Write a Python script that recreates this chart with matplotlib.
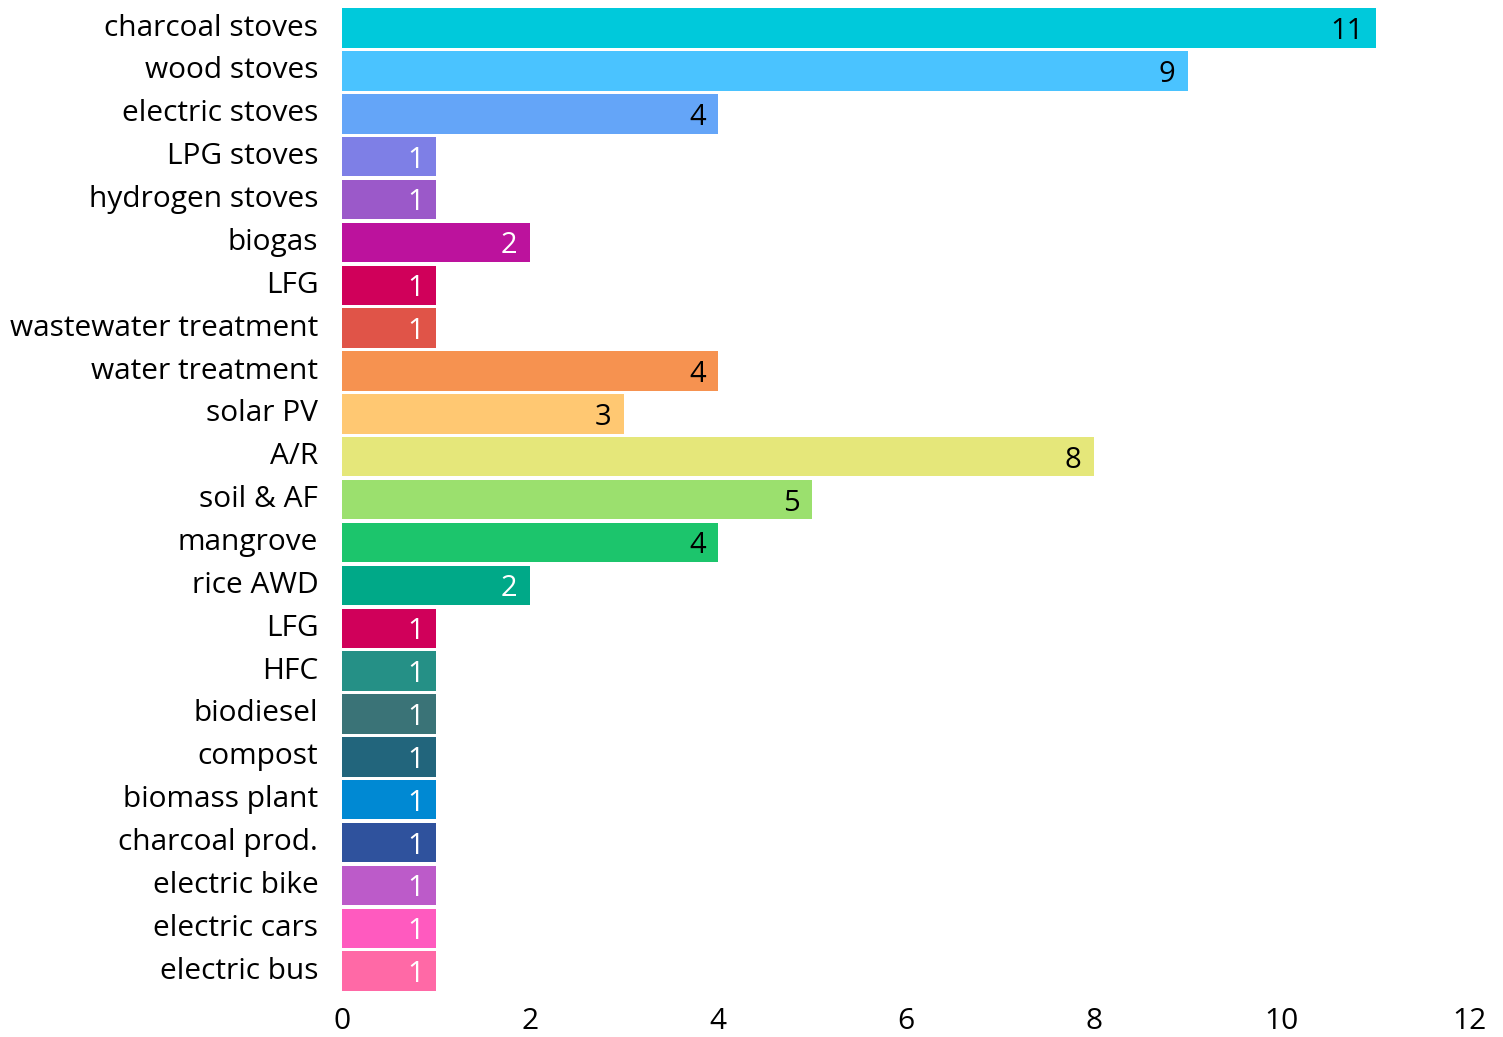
import matplotlib.pyplot as plt

# categories, top to bottom
labels = ["charcoal stoves", "wood stoves", "electric stoves", "LPG stoves",
          "hydrogen stoves", "biogas", "LFG", "wastewater treatment",
          "water treatment", "solar PV", "A/R", "soil & AF", "mangrove",
          "rice AWD", "LFG", "HFC", "biodiesel", "compost", "biomass plant",
          "charcoal prod.", "electric bike", "electric cars", "electric bus"]
values = [11, 9, 4, 1, 1, 2, 1, 1, 4, 3, 8, 5, 4, 2, 1, 1, 1, 1, 1, 1, 1, 1, 1]
colors = ["#00C9DB", "#4AC3FF", "#64A5F8", "#7E7FE6", "#9B59C9", "#BC129D",
          "#D0005A", "#E05448", "#F69250", "#FFC872", "#E5E77A", "#9BE06E",
          "#1CC56C", "#00A988", "#D0005A", "#259086", "#3A7377", "#22657C",
          "#0089D3", "#2F529D", "#BC5BC9", "#FF5ABF", "#FF69A6"]
text_colors = ["black", "black", "black", "white", "white", "white", "white",
               "white", "black", "black", "black", "black", "black", "white",
               "white", "white", "white", "white", "white", "white", "white",
               "white", "white"]
xticks = [0, 2, 4, 6, 8, 10, 12]

plt.rcParams['font.family'] = ['Open Sans', 'DejaVu Sans']

fig = plt.figure(figsize=(15.03, 10.37), dpi=100)
ax = fig.add_axes([0.2275, 0.0428, 0.7505, 0.9508])

pos = list(range(len(labels)))
ax.barh(pos, values, height=0.92, color=colors)

# value labels inside the bar ends
for y, v, tc in zip(pos, values, text_colors):
    ax.text(v - 0.13, y + 0.08, str(v), ha='right', va='center',
            fontsize=21, color=tc)

ax.set_xlim(0, 12)
ax.set_ylim(len(labels) - 0.5, -0.5)
ax.set_yticks(pos)
ax.set_yticklabels(labels, va='center')
for t in ax.get_yticklabels():
    t.set_y(t.get_position()[1])
ax.set_xticks(xticks)
ax.tick_params(axis='y', length=0, pad=17, labelsize=21.5)
ax.tick_params(axis='x', length=0, pad=10, labelsize=21.5)
for s in ax.spines.values():
    s.set_visible(False)

fig.savefig("out.png", dpi=100)
